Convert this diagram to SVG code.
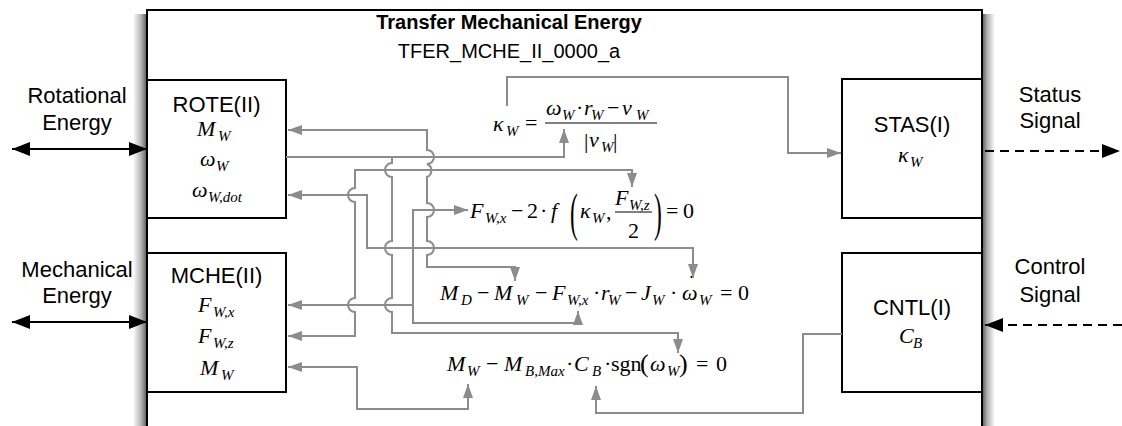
<svg xmlns="http://www.w3.org/2000/svg" width="1122" height="426" viewBox="0 0 1122 426">
<style>
.box{fill:#fff;stroke:#000;stroke-width:2}
.lbl{font-family:"Liberation Sans",Arial,sans-serif;font-size:22px;fill:#000}
.ttl{font-family:"Liberation Sans",Arial,sans-serif;font-size:20px;fill:#000}
.m{font-family:"Liberation Serif","Times New Roman",serif;font-size:22px;font-style:italic;fill:#000}
.s{font-size:15px}
.u{font-style:normal}
.big{font-size:52px}
.c{fill:none;stroke:#8c8c8c;stroke-width:2}
.io{fill:none;stroke:#000;stroke-width:2}
.dash{stroke-dasharray:9 6}
.bar{stroke:#000;stroke-width:1}
</style>
<defs>
<linearGradient id="shl" x1="0" y1="0" x2="1" y2="0"><stop offset="0" stop-color="#fff"/><stop offset="0.6" stop-color="#b0b0b0"/><stop offset="1" stop-color="#555"/></linearGradient>
<linearGradient id="shr" x1="0" y1="0" x2="1" y2="0"><stop offset="0" stop-color="#555"/><stop offset="0.4" stop-color="#b0b0b0"/><stop offset="1" stop-color="#fff"/></linearGradient>
<marker id="ga" viewBox="0 0 14 10" refX="14" refY="5" markerWidth="14" markerHeight="10" markerUnits="userSpaceOnUse" orient="auto-start-reverse"><path d="M0,0 L14,5 L0,10 z" fill="#8c8c8c"/></marker>
<marker id="ba" viewBox="0 0 18 14" refX="18" refY="7" markerWidth="18" markerHeight="14" markerUnits="userSpaceOnUse" orient="auto-start-reverse"><path d="M0,0 L18,7 L0,14 z" fill="#000"/></marker>
</defs>
<rect width="1122" height="426" fill="#fff"/>

<g id="frame">
<rect x="133" y="14" width="14" height="412" fill="url(#shl)"/>
<rect x="982" y="14" width="13" height="412" fill="url(#shr)"/>
<rect x="147" y="10" width="835" height="440" fill="#fff" stroke="#000" stroke-width="2"/>
<text class="ttl" x="509" y="29" text-anchor="middle" font-weight="bold">Transfer Mechanical Energy</text>
<text class="ttl" x="509" y="58" text-anchor="middle">TFER_MCHE_II_0000_a</text>
</g>

<g id="io">
<text class="lbl" x="77" y="103" text-anchor="middle">Rotational</text>
<text class="lbl" x="77" y="130" text-anchor="middle">Energy</text>
<line class="io" x1="12" y1="149" x2="147" y2="149" marker-start="url(#ba)" marker-end="url(#ba)"/>
<text class="lbl" x="77" y="277" text-anchor="middle">Mechanical</text>
<text class="lbl" x="77" y="303" text-anchor="middle">Energy</text>
<line class="io" x1="12" y1="322" x2="147" y2="322" marker-start="url(#ba)" marker-end="url(#ba)"/>
<text class="lbl" x="1050" y="102" text-anchor="middle">Status</text>
<text class="lbl" x="1050" y="128" text-anchor="middle">Signal</text>
<line class="io dash" x1="985" y1="151" x2="1120" y2="151" marker-end="url(#ba)"/>
<text class="lbl" x="1050" y="274" text-anchor="middle">Control</text>
<text class="lbl" x="1050" y="302" text-anchor="middle">Signal</text>
<line class="io dash" x1="1122" y1="325" x2="985" y2="325" marker-end="url(#ba)"/>
</g>

<g id="rote">
<rect class="box" x="147" y="80" width="139" height="138"/>
<text class="lbl" x="216.5" y="112" text-anchor="middle">ROTE(II)</text>
<text class="m"><tspan x="197" y="136">M</tspan><tspan class="s" x="218" y="141">W</tspan></text>
<text class="m"><tspan x="200" y="166">ω</tspan><tspan class="s" x="216" y="171">W</tspan></text>
<text class="m"><tspan x="192" y="197">ω</tspan><tspan class="s" x="208" y="202">W,dot</tspan></text>
</g>

<g id="mche">
<rect class="box" x="147" y="253" width="139" height="139"/>
<text class="lbl" x="216.5" y="283" text-anchor="middle">MCHE(II)</text>
<text class="m"><tspan x="198" y="312">F</tspan><tspan class="s" x="213" y="317">W,x</tspan></text>
<text class="m"><tspan x="198" y="343">F</tspan><tspan class="s" x="213" y="348">W,z</tspan></text>
<text class="m"><tspan x="200" y="375">M</tspan><tspan class="s" x="221" y="380">W</tspan></text>
</g>

<g id="stas">
<rect class="box" x="842" y="79" width="140" height="139"/>
<text class="lbl" x="912" y="132" text-anchor="middle">STAS(I)</text>
<text class="m"><tspan x="898" y="162">κ</tspan><tspan class="s" x="910" y="167">W</tspan></text>
</g>

<g id="cntl">
<rect class="box" x="842" y="253" width="140" height="139"/>
<text class="lbl" x="912" y="315" text-anchor="middle">CNTL(I)</text>
<text class="m"><tspan x="899" y="343">C</tspan><tspan class="s" x="913" y="348">B</tspan></text>
</g>

<g id="eq1">
<text class="m"><tspan x="493" y="131">κ</tspan><tspan class="s" x="506" y="136">W</tspan><tspan class="u" x="525" y="130">=</tspan></text>
<line class="bar" x1="545" y1="123" x2="657" y2="123"/>
<text class="m"><tspan x="546" y="115">ω</tspan><tspan class="s" x="562" y="120">W</tspan><tspan class="u" x="576" y="115">·</tspan><tspan x="584" y="115">r</tspan><tspan class="s" x="591" y="120">W</tspan><tspan class="u" x="607" y="115">−</tspan><tspan x="622" y="115">v</tspan><tspan class="s" x="636" y="120">W</tspan></text>
<text class="m"><tspan class="u" x="584" y="148">|</tspan><tspan x="589" y="147">v</tspan><tspan class="s" x="601" y="152">W</tspan><tspan class="u" x="613" y="148">|</tspan></text>
</g>

<g id="eq2">
<text class="m"><tspan x="470" y="218">F</tspan><tspan class="s" x="485" y="223">W,x</tspan><tspan class="u" x="511" y="218">−</tspan><tspan class="u" x="527" y="218">2</tspan><tspan class="u" x="540" y="218">·</tspan><tspan x="551" y="218">f</tspan><tspan x="580" y="218">κ</tspan><tspan class="s" x="592" y="223">W</tspan><tspan class="u" x="606" y="219">,</tspan></text>
<text class="m u big" transform="translate(570,230) scale(0.45,1)">(</text>
<text class="m"><tspan x="615" y="205">F</tspan><tspan class="s" x="629" y="210">W,z</tspan></text>
<line class="bar" x1="615" y1="212" x2="652" y2="212"/>
<text class="m u" x="628" y="238">2</text>
<text class="m u big" transform="translate(654,230) scale(0.45,1)">)</text>
<text class="m u"><tspan x="666" y="218">=</tspan><tspan x="683" y="218">0</tspan></text>
</g>

<g id="eq3">
<text class="m"><tspan x="440" y="300">M</tspan><tspan class="s" x="461" y="305">D</tspan><tspan class="u" x="477" y="300">−</tspan><tspan x="494" y="300">M</tspan><tspan class="s" x="516" y="305">W</tspan><tspan class="u" x="535" y="300">−</tspan><tspan x="552" y="300">F</tspan><tspan class="s" x="567" y="305">W,x</tspan><tspan class="u" x="593" y="300">·</tspan><tspan x="601" y="300">r</tspan><tspan class="s" x="608" y="305">W</tspan><tspan class="u" x="625" y="300">−</tspan><tspan x="641" y="300">J</tspan><tspan class="s" x="652" y="305">W</tspan><tspan class="u" x="670" y="300">·</tspan><tspan x="682" y="300">ω</tspan><tspan class="s" x="699" y="305">W</tspan><tspan class="u" x="720" y="300">=</tspan><tspan class="u" x="738" y="300">0</tspan></text>
<text class="m u" x="688" y="290">˙</text>
</g>

<g id="eq4">
<text class="m"><tspan x="447" y="371">M</tspan><tspan class="s" x="467" y="376">W</tspan><tspan class="u" x="486" y="371">−</tspan><tspan x="504" y="371">M</tspan><tspan class="s" x="525" y="376">B,Max</tspan><tspan class="u" x="566" y="371">·</tspan><tspan x="574" y="371">C</tspan><tspan class="s" x="592" y="376">B</tspan><tspan class="u" x="604" y="371">·</tspan><tspan class="u" x="611" y="371">sgn</tspan><tspan class="u" x="640" y="372" font-size="26">(</tspan><tspan x="650" y="371">ω</tspan><tspan class="s" x="667" y="376">W</tspan><tspan class="u" x="679" y="372" font-size="26">)</tspan><tspan class="u" x="696" y="371">=</tspan><tspan class="u" x="716" y="371">0</tspan></text>
</g>

<g id="connectors">
<path class="c" d="M507 106 V77 H788 V153 H841" marker-end="url(#ga)"/>
<path class="c" d="M288 130 H427 V150 A7 7 0 0 1 427 164 A7 7 0 0 1 427 177 V203 A7 7 0 0 1 427 217 V241 A7 7 0 0 1 427 255 V267 H515 V281" marker-start="url(#ga)" marker-end="url(#ga)"/>
<path class="c" d="M286 157 H564 V129" marker-end="url(#ga)"/>
<path class="c" d="M392 157 V163 A7 7 0 0 0 392 177 V241 A7 7 0 0 0 392 255 V298 A7 7 0 0 0 392 312 V333 H678 V353" marker-end="url(#ga)"/>
<path class="c" d="M288 336 H355 V312 A7 7 0 0 1 355 298 V202 A7 7 0 0 1 355 188 V170 H632 V187" marker-start="url(#ga)" marker-end="url(#ga)"/>
<path class="c" d="M288 195 H367 V248 H693 V278" marker-start="url(#ga)" marker-end="url(#ga)"/>
<path class="c" d="M468 210 H413 V323 H578 V311" marker-start="url(#ga)" marker-end="url(#ga)"/>
<path class="c" d="M413 305 H288" marker-end="url(#ga)"/>
<path class="c" d="M288 367 H357 V409 H468 V384" marker-start="url(#ga)" marker-end="url(#ga)"/>
<path class="c" d="M842 334 H803 V413 H596 V386" marker-end="url(#ga)"/>
</g>
</svg>
